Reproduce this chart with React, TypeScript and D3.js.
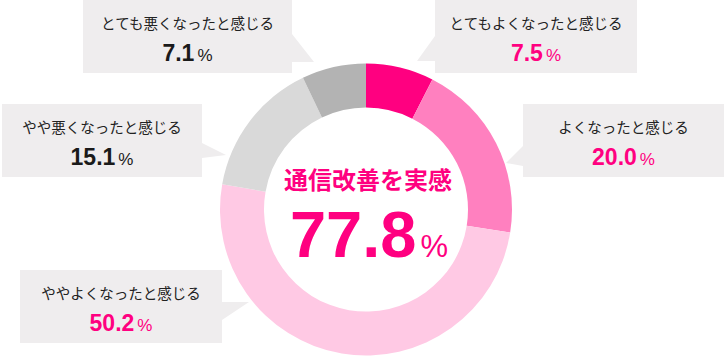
import React from "react";
import * as d3 from "d3";

const categories = [
  "とてもよくなったと感じる",
  "よくなったと感じる",
  "ややよくなったと感じる",
  "やや悪くなったと感じる",
  "とても悪くなったと感じる",
];
const values = [7.5, 20.0, 50.2, 15.1, 7.1];
const sliceColors = ["#ff0080", "#ff80bf", "#ffc9e4", "#d9d9d9", "#b3b3b3"];
const valueColors = ["#ff0080", "#ff0080", "#ff0080", "#1a1a1a", "#1a1a1a"];
const centerTitle = "通信改善を実感";
const centerValue = "77.8";

// callout box geometry (layout only)
const boxes = [
  { x: 435, y: 0, w: 202, h: 73, tail: [[435, 36], [417, 61], [435, 61]] },
  { x: 523, y: 104, w: 201, h: 73, tail: [[523, 146], [506, 163], [523, 166]] },
  { x: 20, y: 270, w: 202, h: 73, tail: [[222, 302], [249, 302], [222, 320]] },
  { x: 2, y: 104, w: 200, h: 73, tail: [[202, 143], [226, 155], [202, 158]] },
  { x: 83, y: 0, w: 209, h: 73, tail: [[292, 34], [314, 62], [292, 62]] },
];

const W = 725;
const H = 356;
const cx = 366;
const cy = 209.5;
const R = 146;
const r = 102;

const JP = "'Noto Sans CJK JP', 'Noto Sans', sans-serif";
const NUM = "'Liberation Sans', Arial, sans-serif";

export default function App() {
  const pie = d3
    .pie<number>()
    .sort(null)
    .value((d) => d)
    .startAngle(0)
    .endAngle(2 * Math.PI);
  const arcs = pie(values);
  const arc = d3.arc<d3.PieArcDatum<number>>().innerRadius(r).outerRadius(R);
  const fmt = d3.format(".1f");

  return (
    <svg
      width={W}
      height={H}
      style={{ position: "absolute", left: 0, top: 0, background: "#fff" }}
    >
      <g transform={`translate(${cx},${cy})`}>
        {arcs.map((a, i) => (
          <path key={i} d={arc(a) || ""} fill={sliceColors[i]} />
        ))}
      </g>
      {boxes.map((b, i) => (
        <g key={i}>
          <rect x={b.x} y={b.y} width={b.w} height={b.h} fill="#efedee" />
          <polygon points={b.tail.map((p) => p.join(",")).join(" ")} fill="#efedee" />
          <text
            x={b.x + b.w / 2}
            y={b.y + 29}
            textAnchor="middle"
            fontFamily={JP}
            fontSize={14.5}
            fill="#222"
          >
            {categories[i]}
          </text>
          <text
            x={b.x + b.w / 2}
            y={b.y + 60.5}
            textAnchor="middle"
            fontFamily={NUM}
            fill={valueColors[i]}
          >
            <tspan fontSize={23} fontWeight="bold">
              {fmt(values[i])}
            </tspan>
            <tspan fontSize={17} dx={3}>
              %
            </tspan>
          </text>
        </g>
      ))}
      <text
        x={368}
        y={189}
        textAnchor="middle"
        fontFamily={JP}
        fontWeight="bold"
        fontSize={24}
        fill="#ff0080"
      >
        {centerTitle}
      </text>
      <text x={369} y={257} textAnchor="middle" fontFamily={NUM} fill="#ff0080">
        <tspan fontSize={65} fontWeight="bold">
          {centerValue}
        </tspan>
        <tspan fontSize={31} dx={4}>
          %
        </tspan>
      </text>
    </svg>
  );
}
